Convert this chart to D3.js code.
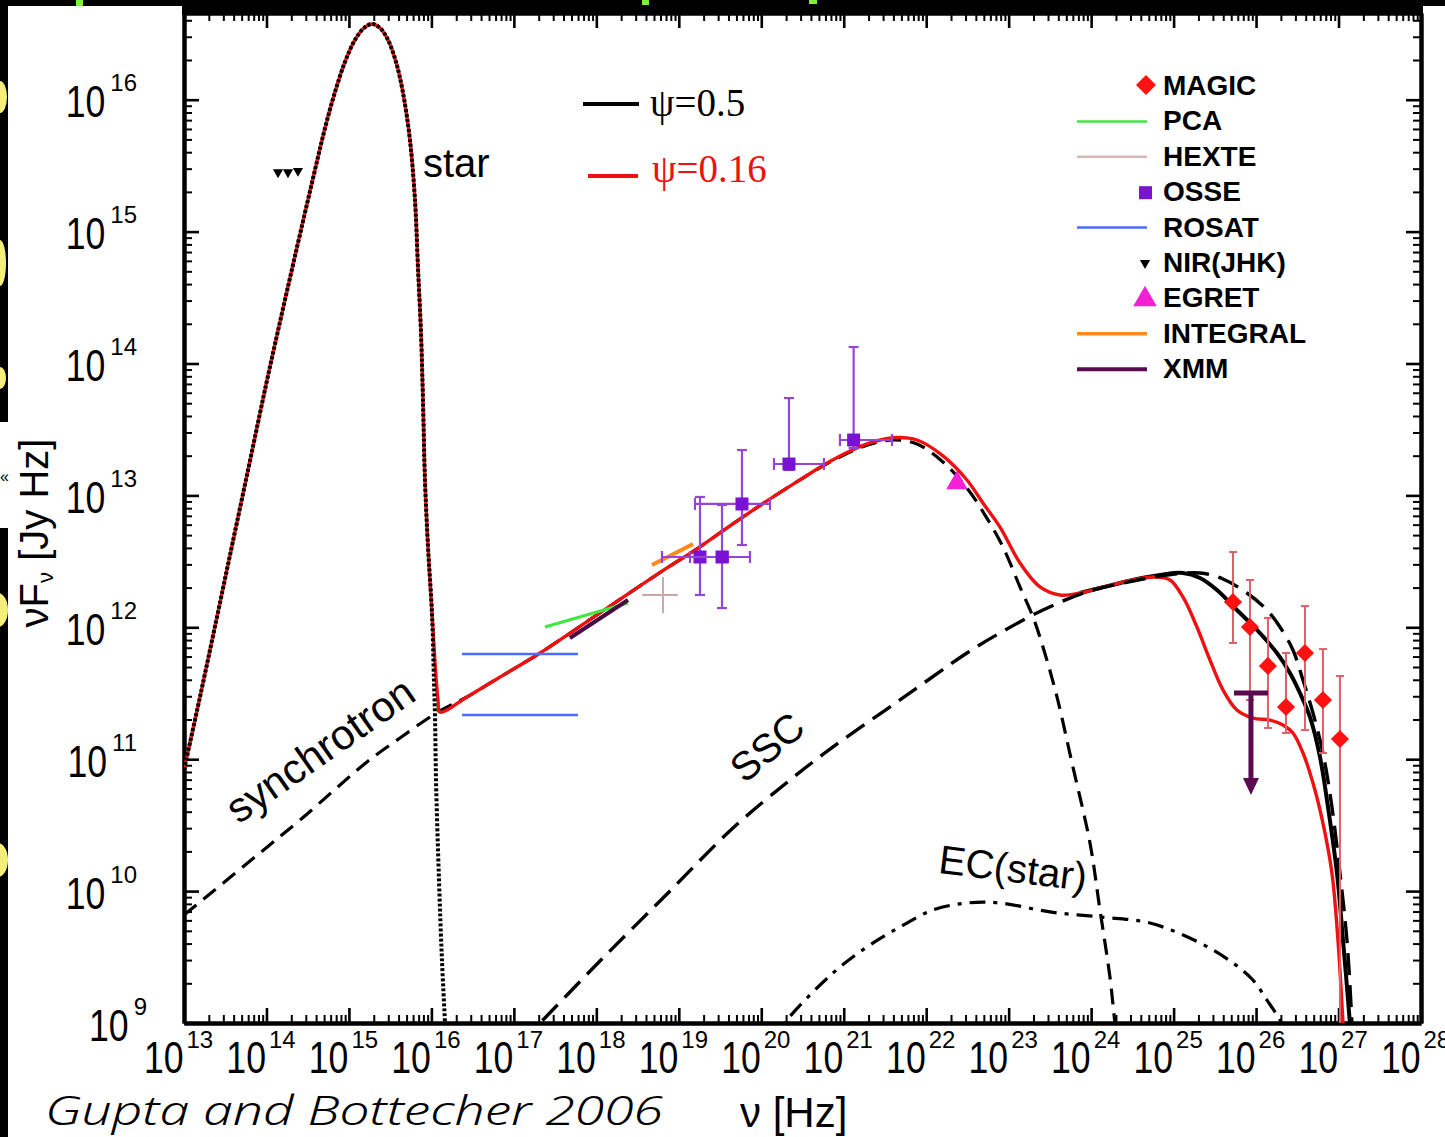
<!DOCTYPE html>
<html><head><meta charset="utf-8">
<script src="https://cdn.jsdelivr.net/npm/d3@7"></script>
<style>body{margin:0;background:#000}svg{display:block}</style>
</head><body>
<svg id="c" width="1445" height="1137"></svg>
<script>
// ---------- data: log10(nu [Hz]) , log10(nuF_nu [Jy Hz]) ----------
const xExponents = ["13","14","15","16","17","18","19","20","21","22","23","24","25","26","27","28"];
const yExponents = ["9","10","11","12","13","14","15","16"];

const starLogNu = [13.000,13.194,13.400,13.594,13.800,13.994,14.164,14.346,14.588,14.710,14.831,14.952,15.073,15.183,15.280,15.377,15.474,15.571,15.656,15.740,15.801,15.837,15.874,15.898,15.922,15.959,16.007,16.031,16.044,16.056,16.092,16.128,16.165,16.177];
const starLogF  = [10.918,11.472,12.078,12.654,13.261,13.837,14.315,14.815,15.467,15.785,16.058,16.286,16.453,16.544,16.574,16.544,16.453,16.286,16.051,15.695,15.240,14.732,14.231,13.723,13.117,12.609,12.108,11.600,11.320,10.842,10.084,9.478,9.0,8.833];

const psi016LogNu = [13.000,13.194,13.400,13.594,13.800,13.994,14.164,14.346,14.588,14.710,14.831,14.952,15.073,15.183,15.280,15.377,15.474,15.571,15.656,15.740,15.801,15.837,15.874,15.898,15.922,15.959,16.007,16.044,16.080,16.104,16.432,16.832,17.317,18.044,18.444,18.857,19.257,19.657,20.069,20.469,20.870,21.282,21.597,21.888,22.203,22.494,22.688,22.895,23.137,23.380,23.622,23.865,24.107,24.507,24.774,24.956,25.113,25.283,25.441,25.599,25.768,25.962,26.169,26.326,26.447,26.569,26.690,26.811,26.920,26.993,27.054,27.070];
const psi016LogF  = [10.918,11.472,12.078,12.654,13.261,13.837,14.315,14.815,15.467,15.785,16.058,16.286,16.453,16.544,16.574,16.544,16.453,16.286,16.051,15.695,15.240,14.732,14.231,13.723,13.117,12.609,12.108,11.729,11.449,11.358,11.472,11.623,11.805,12.110,12.278,12.450,12.610,12.785,12.958,13.118,13.270,13.390,13.437,13.420,13.300,13.117,12.942,12.760,12.488,12.306,12.245,12.260,12.298,12.359,12.381,12.359,12.230,12.002,11.752,11.525,11.373,11.312,11.297,11.259,11.199,11.047,10.820,10.516,10.137,9.629,9.0,8.8];

const psi05LogNu = [23.865,24.107,24.507,24.835,25.113,25.320,25.526,25.768,26.011,26.253,26.411,26.532,26.653,26.775,26.872,26.981,27.054,27.138,27.160];
const psi05LogF  = [12.260,12.298,12.359,12.396,12.412,12.374,12.283,12.131,11.980,11.805,11.654,11.502,11.320,11.017,10.638,10.137,9.629,9.0,8.8];

const syncLogNu = [13.000,13.194,13.800,14.407,15.219,15.619,16.080,16.432,16.832,17.317,18.044,18.444,18.857,19.257,19.657,20.069,20.469,20.870,21.282,21.597,21.888,22.203,22.494,22.713,22.931,23.137,23.295,23.416,23.586,23.768,23.986,24.107,24.228,24.289,24.325];
const syncLogF  = [9.819,9.917,10.228,10.539,10.979,11.161,11.358,11.472,11.623,11.805,12.110,12.278,12.450,12.610,12.785,12.958,13.118,13.265,13.380,13.420,13.390,13.253,13.056,12.851,12.609,12.306,12.078,11.851,11.472,10.971,10.365,9.857,9.349,9.0,8.833];

const sscLogNu = [17.074,17.317,18.044,18.857,19.657,20.348,20.870,21.682,22.494,22.895,23.416,23.949,24.507,24.920,25.320,25.599,25.889,26.132,26.290,26.447,26.569,26.690,26.811,26.920,27.017,27.102,27.163,27.180];
const sscLogF  = [8.848,9.0,9.470,9.978,10.478,10.842,11.093,11.449,11.805,11.957,12.131,12.268,12.351,12.396,12.412,12.366,12.260,12.131,12.002,11.828,11.600,11.350,11.047,10.638,10.137,9.629,9.0,8.8];

const ecLogNu = [20.106,20.312,20.870,21.282,21.682,22.082,22.494,22.895,23.501,24.107,24.713,25.320,25.720,25.962,26.132,26.290,26.411];
const ecLogF  = [8.833,9.023,9.379,9.576,9.728,9.857,9.910,9.910,9.842,9.804,9.758,9.607,9.455,9.326,9.174,9.023,8.871];

const magicLogNu = [25.720,25.926,26.144,26.363,26.593,26.811,27.017];
const magicLogF  = [12.192,12.002,11.707,11.396,11.805,11.449,11.153];
const magicLogHi = [12.571,12.359,12.071,11.805,12.161,11.835,11.631];
const magicLogLo = [11.881,11.449,11.237,11.199,11.221,11.047,8.5];

const osseLogNu   = [19.257,19.524,19.766,20.336,21.120];
const osseLogF    = [12.533,12.533,12.935,13.238,13.420];
const osseLogFHi  = [12.988,12.927,13.344,13.738,14.125];
const osseLogFLo  = [12.245,12.146,12.624,13.193,13.359];
const osseLogNuLo = [18.796,19.136,19.196,20.154,20.954];
const osseLogNuHi = [19.596,19.863,20.106,20.760,21.585];

const nirLogNu = [14.140,14.261,14.382];
const nirLogF  = [15.45,15.45,15.46];
const egretLogNu = [22.373];
const egretLogF  = [13.094];
const rosatLogNu = [16.371,17.777];
const rosatLogF  = [11.798,11.335];
const pcaLogNu = [17.377,18.384];
const pcaLogF  = [12.002,12.184];
const xmmLogNu = [17.680,18.384];
const xmmLogF  = [11.919,12.207];
const integralLogNu = [18.675,19.172];
const integralLogF  = [12.472,12.632];
const hexteLogNu = [18.808], hexteLogF = [12.245];
const hexteLogNuRange = [18.554,18.990], hexteLogFRange = [12.108,12.381];
const xmmUlLogNu = [25.938], xmmUlLogF = [11.502], xmmUlTipLogF = [10.729];

const legendNames = ["MAGIC","PCA","HEXTE","OSSE","ROSAT","NIR(JHK)","EGRET","INTEGRAL","XMM"];
const psiLabels = ["ψ=0.5","ψ=0.16"];

// ---------- setup ----------
const W = 1445, H = 1137;
const PL = 184, PR = 1421, PT = 13, PB = 1023;
const yTop = Math.pow(10, 9 + (PB - PT) / 131.9);
const x = d3.scaleLog().domain([1e13, 1e28]).range([PL, PR]);
const y = d3.scaleLog().domain([1e9, yTop]).range([PB, PT]);
const X = v => x(Math.pow(10, v)), Y = v => y(Math.pow(10, v));
const zip = (a, b) => a.map((v, i) => [v, b[i]]);
const line = d3.line().x(d => X(d[0])).y(d => Y(d[1])).curve(d3.curveCatmullRom.alpha(0.5));
const FONT = "'Liberation Sans', Arial, Helvetica, sans-serif";

const svg = d3.select("#c");
svg.append("rect").attr("width", W).attr("height", H).attr("fill", "#000");
svg.append("rect").attr("x", 8).attr("y", 6).attr("width", W - 8).attr("height", H - 6).attr("fill", "#fff");
svg.append("rect").attr("x", PL - 2).attr("y", 5).attr("width", PR - PL + 4).attr("height", PT - 3).attr("fill", "#000");

// slide remnants on the left/top edges
svg.append("rect").attr("x", 0).attr("y", 422).attr("width", 8).attr("height", 106).attr("fill", "#fff");
svg.append("text").attr("x", 0).attr("y", 482).attr("font-size", 16).attr("font-family", FONT).attr("fill", "#000").text("«");
const strip = svg.append("g");
strip.append("clipPath").attr("id", "strip").append("rect").attr("x", 0).attr("y", 0).attr("width", 8).attr("height", H);
const sg = strip.append("g").attr("clip-path", "url(#strip)").attr("fill", "#f4ef7a");
[[0, 97, 7, 16], [0, 263, 6, 23], [0, 378, 6, 11], [-2, 610, 10, 17], [-2, 860, 10, 17]].forEach(e =>
  sg.append("ellipse").attr("cx", e[0]).attr("cy", e[1]).attr("rx", e[2]).attr("ry", e[3]));
[[76, 0, 7, 6], [642, 0, 7, 5], [809, 0, 8, 4]].forEach(r =>
  svg.append("rect").attr("x", r[0]).attr("y", r[1]).attr("width", r[2]).attr("height", r[3]).attr("fill", "#7cf03a"));

// ---------- axes ----------
const xMajor = xExponents.map(e => Math.pow(10, +e));
const xMinor = [];
for (let e = 13; e < 28; e++) for (let k = 2; k <= 9; k++) xMinor.push(k * Math.pow(10, e));
const yMajor = yExponents.map(e => Math.pow(10, +e));
const yMinor = [];
for (let e = 9; e <= 16; e++) for (let k = 2; k <= 9; k++) { const v = k * Math.pow(10, e); if (v < yTop) yMinor.push(v); }

function styleAxis(g, w) {
  g.select(".domain").attr("stroke", "#000").attr("stroke-width", 4);
  g.selectAll(".tick line").attr("stroke", "#000").attr("stroke-width", w);
}
const axes = [
  [d3.axisBottom(x), `translate(0,${PB})`, xMajor, xMinor],
  [d3.axisTop(x), `translate(0,${PT})`, xMajor, xMinor],
  [d3.axisLeft(y), `translate(${PL},0)`, yMajor, yMinor],
  [d3.axisRight(y), `translate(${PR},0)`, yMajor, yMinor]
];
const majorGroups = [];
axes.forEach(([ax, tr, maj, min]) => {
  const gMin = svg.append("g").attr("transform", tr).call(ax.tickValues(min).tickFormat("").tickSize(-8).tickSizeOuter(0));
  styleAxis(gMin, 2);
  const gMaj = svg.append("g").attr("transform", tr).call(ax.tickValues(maj).tickFormat("").tickSize(-15).tickSizeOuter(0));
  styleAxis(gMaj, 2.6);
  majorGroups.push(gMaj);
});

// bottom tick labels
majorGroups[0].selectAll(".tick").each(function (d, i) {
  const t = d3.select(this);
  t.append("text").attr("transform", "translate(-1,50) scale(0.81,1)").attr("text-anchor", "end")
    .attr("font-size", 44).attr("font-family", FONT).attr("fill", "#000").text("10");
  t.append("text").attr("x", 2).attr("y", 25).attr("text-anchor", "start")
    .attr("font-size", 24).attr("font-family", FONT).attr("fill", "#000").text(xExponents[i]);
});
// left tick labels
majorGroups[2].selectAll(".tick").each(function (d, i) {
  const t = d3.select(this);
  const ex = yExponents[i];
  const right = -47 + (ex.length < 2 ? 10 : 0);
  const sup = t.append("text").attr("x", right).attr("y", -9).attr("text-anchor", "end")
    .attr("font-size", 24).attr("font-family", FONT).attr("fill", "#000").text(ex);
  const w = sup.node().getComputedTextLength();
  t.append("text").attr("transform", `translate(${right - w - 5},17) scale(0.81,1)`).attr("text-anchor", "end")
    .attr("font-size", 44).attr("font-family", FONT).attr("fill", "#000").text("10");
});

// ---------- curves ----------
svg.append("clipPath").attr("id", "plot").append("rect").attr("x", PL).attr("y", PT).attr("width", PR - PL).attr("height", PB - PT);
const g = svg.append("g").attr("clip-path", "url(#plot)");
const path = (data, stroke, w, dash) => g.append("path").datum(data).attr("d", line).attr("fill", "none")
  .attr("stroke", stroke).attr("stroke-width", w).attr("stroke-dasharray", dash || null)
  .attr("stroke-linejoin", "round");

path(zip(ecLogNu, ecLogF), "#000", 3.2, "16,8,4,8");
path(zip(syncLogNu, syncLogF), "#000", 3.2, "16,9");
path(zip(psi05LogNu, psi05LogF), "#000", 4);
path(zip(psi016LogNu, psi016LogF), "#ee1111", 3.4);
path(zip(sscLogNu, sscLogF), "#000", 3.4, "22,10");
path(zip(starLogNu, starLogF), "#000", 4, "3,2");

// ---------- data ----------
const seg = (x1, y1, x2, y2, c, w) => g.append("line").attr("x1", x1).attr("y1", y1).attr("x2", x2).attr("y2", y2)
  .attr("stroke", c).attr("stroke-width", w);

// ROSAT
rosatLogF.forEach(f => seg(X(rosatLogNu[0]), Y(f), X(rosatLogNu[1]), Y(f), "#4a6cff", 2.5));
// PCA, XMM, INTEGRAL spectra
seg(X(pcaLogNu[0]), Y(pcaLogF[0]), X(pcaLogNu[1]), Y(pcaLogF[1]), "#3ee83e", 3);
seg(X(xmmLogNu[0]), Y(xmmLogF[0]), X(xmmLogNu[1]), Y(xmmLogF[1]), "#4a0a45", 4);
seg(X(integralLogNu[0]), Y(integralLogF[0]), X(integralLogNu[1]), Y(integralLogF[1]), "#ff8a1a", 4);
// HEXTE
seg(X(hexteLogNuRange[0]), Y(hexteLogF[0]), X(hexteLogNuRange[1]), Y(hexteLogF[0]), "#c9a9a6", 2);
seg(X(hexteLogNu[0]), Y(hexteLogFRange[0]), X(hexteLogNu[0]), Y(hexteLogFRange[1]), "#c9a9a6", 2);
// OSSE
const oc = "#9346d8";
osseLogNu.forEach((n, i) => {
  const cx = X(n), cy = Y(osseLogF[i]);
  seg(cx, Y(osseLogFHi[i]), cx, Y(osseLogFLo[i]), oc, 2.2);
  seg(X(osseLogNuLo[i]), cy, X(osseLogNuHi[i]), cy, oc, 2.2);
  seg(X(osseLogNuLo[i]), cy - 6, X(osseLogNuLo[i]), cy + 6, oc, 2.2);
  seg(X(osseLogNuHi[i]), cy - 6, X(osseLogNuHi[i]), cy + 6, oc, 2.2);
  seg(cx - 5, Y(osseLogFHi[i]), cx + 5, Y(osseLogFHi[i]), oc, 2.2);
  seg(cx - 5, Y(osseLogFLo[i]), cx + 5, Y(osseLogFLo[i]), oc, 2.2);
  g.append("rect").attr("x", cx - 6.5).attr("y", cy - 6.5).attr("width", 13).attr("height", 13).attr("fill", "#7a12d4");
});
// NIR
nirLogNu.forEach((n, i) => g.append("path").attr("d", d3.symbol(d3.symbolTriangle, 45)())
  .attr("transform", `translate(${X(n)},${Y(nirLogF[i])}) rotate(180)`).attr("fill", "#000"));
// EGRET
egretLogNu.forEach((n, i) => g.append("path").attr("d", d3.symbol(d3.symbolTriangle, 200)())
  .attr("transform", `translate(${X(n)},${Y(egretLogF[i])})`).attr("fill", "#f51fd6"));
// MAGIC
const mc = "#e0606a";
magicLogNu.forEach((n, i) => {
  const cx = X(n);
  seg(cx, Y(magicLogHi[i]), cx, Y(magicLogLo[i]), mc, 2);
  seg(cx - 4, Y(magicLogHi[i]), cx + 4, Y(magicLogHi[i]), mc, 2);
  seg(cx - 4, Y(magicLogLo[i]), cx + 4, Y(magicLogLo[i]), mc, 2);
});
magicLogNu.forEach((n, i) => g.append("path").attr("d", d3.symbol(d3.symbolSquare, 165)())
  .attr("transform", `translate(${X(n)},${Y(magicLogF[i])}) rotate(45)`).attr("fill", "#ff1111"));
// XMM upper limit
xmmUlLogNu.forEach((n, i) => {
  const cx = X(n), top = Y(xmmUlLogF[i]), tip = Y(xmmUlTipLogF[i]);
  seg(cx - 17, top, cx + 17, top, "#5c0a50", 5);
  seg(cx, top, cx, tip - 14, "#5c0a50", 5);
  g.append("path").attr("d", `M${cx - 8},${tip - 17}L${cx + 8},${tip - 17}L${cx},${tip}Z`).attr("fill", "#5c0a50");
});

// ---------- annotations ----------
const txt = (x0, y0, s, size, opts = {}) => svg.append("text").attr("x", x0).attr("y", y0).attr("font-size", size)
  .attr("font-family", opts.family || FONT).attr("fill", opts.fill || "#000").text(s);
txt(423, 177, "star", 40);
svg.append("text").attr("transform", "translate(320,750) rotate(-35)").attr("text-anchor", "middle")
  .attr("dominant-baseline", "central").attr("font-size", 42).attr("font-family", FONT).text("synchrotron");
svg.append("text").attr("transform", "translate(767,747) rotate(-40)").attr("text-anchor", "middle")
  .attr("dominant-baseline", "central").attr("font-size", 40).attr("font-family", FONT).text("SSC");
svg.append("text").attr("transform", "translate(1013,868) rotate(7)").attr("text-anchor", "middle")
  .attr("dominant-baseline", "central").attr("font-size", 40).attr("font-family", FONT).text("EC(star)");

// psi legend
svg.append("line").attr("x1", 583).attr("x2", 639).attr("y1", 104).attr("y2", 104).attr("stroke", "#000").attr("stroke-width", 4);
svg.append("line").attr("x1", 588).attr("x2", 638).attr("y1", 176).attr("y2", 176).attr("stroke", "#ee1111").attr("stroke-width", 4);
txt(650, 116, psiLabels[0], 39, { family: "'Liberation Serif', 'Times New Roman', serif" });
txt(652, 182, psiLabels[1], 39, { family: "'Liberation Serif', 'Times New Roman', serif", fill: "#ee1111" });

// right legend
const legStyle = [
  { t: "diamond", c: "#ff1111" }, { t: "line", c: "#3ee83e", w: 2.5 }, { t: "line", c: "#d8b8b5", w: 2.5 },
  { t: "square", c: "#7a12d4" }, { t: "line", c: "#4a6cff", w: 2.5 }, { t: "down", c: "#000" },
  { t: "up", c: "#f51fd6" }, { t: "line", c: "#ff8a1a", w: 3.5 }, { t: "line", c: "#5c0a50", w: 4 }
];
legendNames.forEach((name, i) => {
  const b = 95 + i * 35.4;
  txt(1163, b, name, 28).attr("font-weight", "bold");
  const s = legStyle[i];
  if (s.t === "line") svg.append("line").attr("x1", 1077).attr("x2", 1147).attr("y1", b - 9).attr("y2", b - 9).attr("stroke", s.c).attr("stroke-width", s.w);
  else if (s.t === "diamond") svg.append("path").attr("d", d3.symbol(d3.symbolSquare, 200)()).attr("transform", `translate(1146,${b - 10}) rotate(45)`).attr("fill", s.c);
  else if (s.t === "square") svg.append("rect").attr("x", 1139).attr("y", b - 15).attr("width", 13).attr("height", 13).attr("fill", s.c);
  else if (s.t === "down") svg.append("path").attr("d", d3.symbol(d3.symbolTriangle, 45)()).attr("transform", `translate(1145,${b - 9}) rotate(180)`).attr("fill", s.c);
  else if (s.t === "up") svg.append("path").attr("d", d3.symbol(d3.symbolTriangle, 240)()).attr("transform", `translate(1145,${b - 8})`).attr("fill", s.c);
});

// axis titles
const yt = svg.append("text").attr("transform", "translate(48,533) rotate(-90)").attr("text-anchor", "middle")
  .attr("font-size", 40).attr("font-family", FONT).attr("fill", "#000");
yt.append("tspan").text("νF");
yt.append("tspan").attr("font-size", 22).attr("dy", 5).text("ν");
yt.append("tspan").attr("dy", -5).text(" [Jy Hz]");
txt(740, 1127, "ν [Hz]", 42);
txt(45, 1125, "Gupta and Bottecher 2006", 40, { family: "'Noto Sans', 'Open Sans', sans-serif" })
  .attr("font-style", "italic").attr("font-weight", 300).attr("textLength", 618).attr("lengthAdjust", "spacingAndGlyphs");
</script>
</body></html>
